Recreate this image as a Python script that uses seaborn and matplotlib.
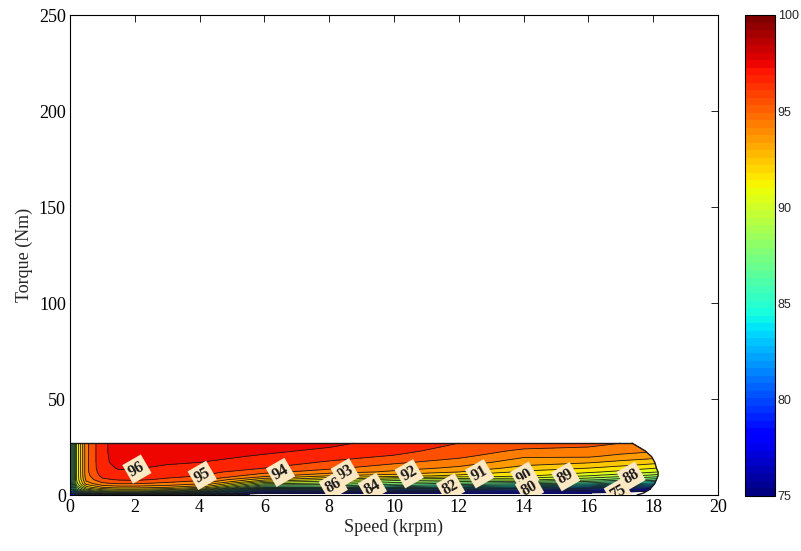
import matplotlib
matplotlib.use("Agg")
import matplotlib.pyplot as plt
from matplotlib.colors import Normalize
from matplotlib.cm import ScalarMappable
import numpy as np
import seaborn as sns

# efficiency map: rows = torque (Nm), cols = speed (krpm)
torque_rows = [0, 1, 2, 3, 4, 5, 6, 8, 10, 12, 14, 17, 20, 23, 27]
speed_cols = [0, 0.2, 0.5, 1, 1.5, 2, 3, 4, 6, 8, 10, 12, 14, 16, 17]
# last column: max speed reached at each torque row
edge_speed = [17.5, 17.7, 17.8, 17.9, 17.95, 18.0, 18.05, 18.1, 18.15, 18.15,
              18.1, 18.05, 17.95, 17.75, 17.35]

efficiency = [
    [77, 78, 79, 80, 80.5, 80.5, 79, 77, 72, 68, 66, 64, 62, 60, 58, 56],
    [78, 81, 84, 85.5, 86, 86, 84.5, 82, 75.6, 75.4, 75.3, 75.2, 75.1, 75, 74.5, 72],
    [79, 84, 87, 88.5, 89, 89, 88, 86, 77.5, 77.8, 77.5, 77, 76.8, 76.3, 75.9, 75.3],
    [80, 86, 89, 90.5, 91, 91, 90.5, 89, 80.5, 80.8, 80, 79.5, 78.8, 78, 77.3, 76.5],
    [80.5, 87, 90.5, 92, 92.5, 92.5, 92, 91, 84.5, 85, 83.5, 82.5, 81.5, 80.5, 79.5, 78.5],
    [81, 88, 91.5, 93, 93.3, 93.3, 93, 92.3, 86.5, 86.5, 85.2, 84.3, 83.5, 82.5, 81.5, 80.5],
    [81.5, 88.5, 92.5, 93.8, 94.1, 94.1, 93.7, 93.2, 88.2, 87.7, 86.5, 85.8, 85.3, 84.5, 83.5, 82.5],
    [82, 89, 93.3, 94.8, 95.1, 95.2, 94.8, 94.3, 91.3, 89.8, 88.5, 88.2, 88.3, 87.3, 86.5, 85.5],
    [82, 89, 93.6, 95.3, 95.6, 95.7, 95.3, 95.0, 93.4, 92, 91.5, 90.7, 90.2, 89, 88.4, 87.5],
    [82, 89, 93.7, 95.6, 95.9, 95.9, 95.6, 95.4, 94.3, 93.5, 92.8, 92, 90.8, 90.2, 89.7, 89],
    [82, 89, 93.7, 95.8, 96.05, 96.05, 95.85, 95.7, 95.0, 94.2, 93.4, 92.8, 91.6, 91, 90.6, 90],
    [82, 89, 93.7, 95.85, 96.2, 96.2, 96.1, 96.0, 95.4, 94.9, 94.2, 93.5, 92.5, 92.1, 91.7, 91.3],
    [82, 89, 93.7, 95.85, 96.25, 96.35, 96.35, 96.3, 95.86, 95.3, 94.9, 94.2, 93.1, 93.1, 92.7, 92.4],
    [82, 89, 93.7, 95.85, 96.3, 96.4, 96.45, 96.45, 96.2, 95.8, 95.3, 94.6, 93.8, 93.7, 93.4, 93.2],
    [82, 89, 93.7, 95.85, 96.3, 96.45, 96.5, 96.5, 96.4, 96.25, 95.6, 95.0, 94.6, 94.3, 94.0, 93.8],
]

levels = list(range(75, 101))
label_levels = [96, 95, 94, 93, 92, 91, 90, 89, 88, 86, 84, 82, 80, 75]
label_speed = [2.4, 4.3, 6.8, 8.5, 10.4, 12.2, 14.1, 15.4, 17.2, 8.3, 9.4, 11.8, 14.2, 16.9]
label_torque = [13, 9.9, 10.4, 11.5, 11.5, 13, 9.4, 8.9, 10.4, 3.1, 2.6, 2.1, 3.1, 1.6]
cbar_ticks = [75, 80, 85, 90, 95, 100]

sns.set_theme(style="white")
plt.rcParams["font.family"] = ["Liberation Serif", "DejaVu Serif"]

speed_grid = np.array([speed_cols + [edge] for edge in edge_speed])
torque_grid = np.repeat(np.array(torque_rows, dtype=float)[:, None], speed_grid.shape[1], axis=1)
eff = np.array(efficiency)

fig = plt.figure(figsize=(8.01, 5.51), dpi=100)
ax = fig.add_axes([70 / 801, 56 / 551, 648 / 801, 480 / 551])
cax = fig.add_axes([745 / 801, 55 / 551, 30 / 801, 481 / 551])

cmap = plt.get_cmap("jet", 64)
# MATLAB-like band colouring (band takes a colour one step up)
ax.contourf(speed_grid, torque_grid, eff, levels=levels, cmap=cmap, norm=Normalize(74, 99))
ax.contour(speed_grid, torque_grid, eff, levels=levels, colors="k", linewidths=0.6)

# envelope outline
ax.plot(speed_grid[-1], torque_grid[-1], color="k", lw=1)
ax.plot(speed_grid[:, -1], torque_grid[:, -1], color="k", lw=1)

# labels: one hidden contour set per labelled level
for lev, sx, ty in zip(label_levels, label_speed, label_torque):
    one = ax.contour(speed_grid, torque_grid, eff, levels=[lev], colors="k", linewidths=0)
    texts = one.clabel(manual=[(sx, ty)], fmt="%d", fontsize=11.5, inline=False)
    for t in texts:
        t.set_fontweight("bold")
        t.set_transform_rotates_text(False)
        t.set_rotation(30)
        t.set_bbox(dict(facecolor="#FDE8C4", edgecolor="none", pad=2))

ax.set_xlim(0, 20)
ax.set_ylim(0, 250)
ax.set_xticks(range(0, 21, 2))
ax.set_yticks(range(0, 251, 50))
ax.tick_params(direction="in", top=True, right=True, length=5, width=0.6,
               labelsize=13, colors="black", pad=3)
for s in ax.spines.values():
    s.set_color("black")
    s.set_linewidth(0.8)
ax.set_xlabel("Speed (krpm)", fontsize=13, labelpad=2)
ax.set_ylabel("Torque (Nm)", fontsize=13, labelpad=4)

cb = fig.colorbar(ScalarMappable(norm=Normalize(75, 100), cmap=cmap), cax=cax, ticks=cbar_ticks)
cb.outline.set_linewidth(0.8)
cb.outline.set_edgecolor("black")
cax.tick_params(direction="in", left=True, right=True, length=4, width=0.6, labelsize=9, pad=2)
for t in cax.get_yticklabels():
    t.set_fontfamily(["Liberation Sans", "DejaVu Sans"])

fig.savefig("out.png", dpi=100)
